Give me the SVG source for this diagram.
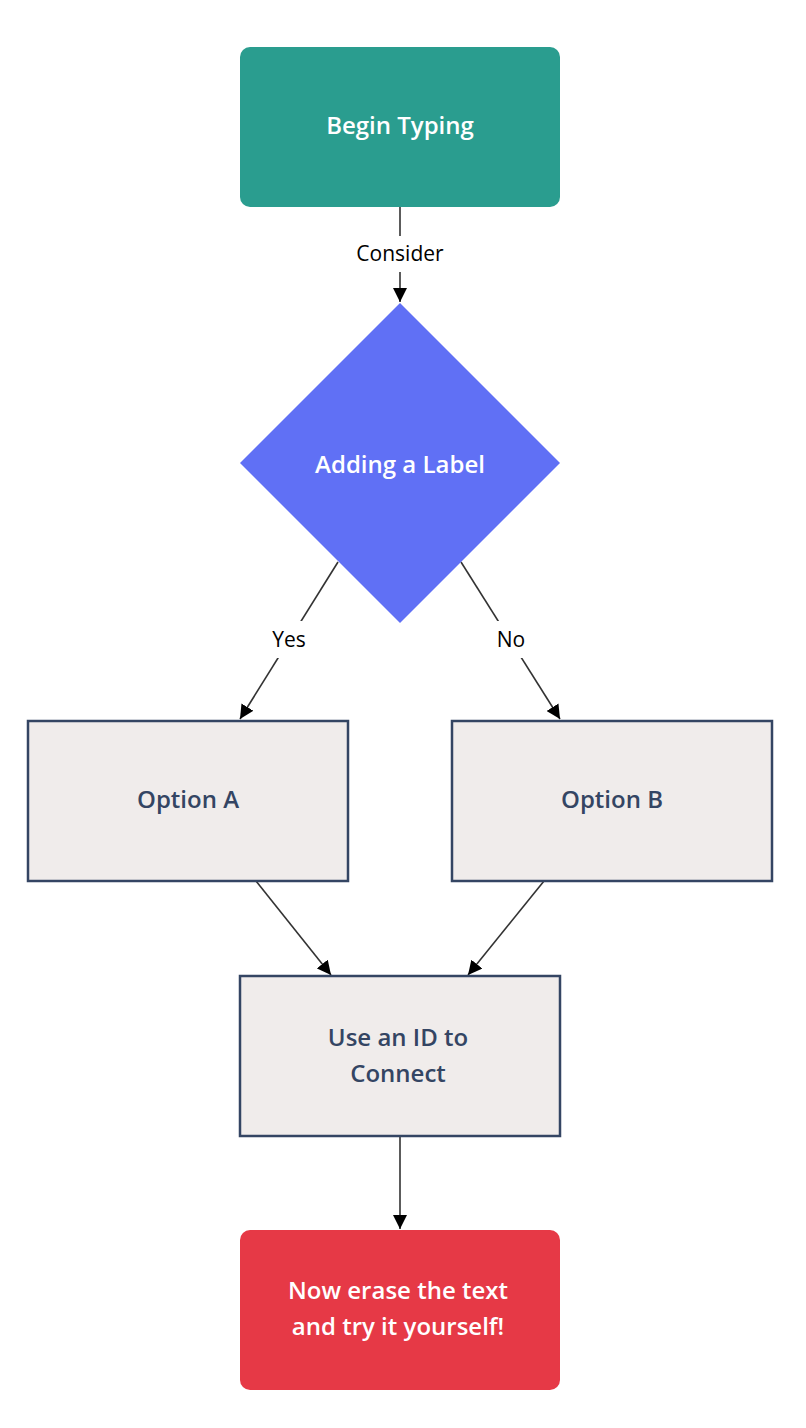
<svg xmlns="http://www.w3.org/2000/svg" width="806" height="1428" viewBox="0 0 806 1428">
<defs>
<style>
.nt{font-family:"Open Sans","Noto Sans","Liberation Sans",sans-serif;font-weight:600;font-size:24px;text-anchor:middle}
.w{fill:#ffffff}
.d{fill:#344563}
.box{fill:#F0ECEB;stroke:#344563;stroke-width:2.5}
.lbl{font-family:"Open Sans","Noto Sans","Liberation Sans",sans-serif;font-size:21px;fill:#000;text-anchor:middle}
.edge{stroke:#333333;stroke-width:1.6;fill:none;marker-end:url(#arr)}
</style>
<marker id="arr" markerUnits="userSpaceOnUse" markerWidth="14" markerHeight="14" viewBox="0 0 12 12" refX="12" refY="6" orient="auto">
<path d="M0,0 L12,6 L0,12 z" fill="#000"/>
</marker>
</defs>
<rect width="806" height="1428" fill="#ffffff"/>
<g id="connectors">
<line class="edge" x1="400" y1="207" x2="400" y2="302"/>
<rect x="352" y="236" width="96" height="36" fill="#fff"/>
<text class="lbl" x="400" y="261">Consider</text>
<line class="edge" x1="338" y1="562" x2="240" y2="719"/>
<rect x="266" y="621" width="46" height="37" fill="#fff"/>
<text class="lbl" x="289" y="647">Yes</text>
<line class="edge" x1="461" y1="562" x2="560" y2="719"/>
<rect x="493" y="621" width="36" height="37" fill="#fff"/>
<text class="lbl" x="511" y="647">No</text>
<line class="edge" x1="256" y1="881" x2="331" y2="975"/>
<line class="edge" x1="544" y1="881" x2="468" y2="975"/>
<line class="edge" x1="400" y1="1137" x2="400" y2="1229"/>
</g>
<g id="begin">
<rect x="240" y="47" width="320" height="160" rx="10" fill="#2A9D8F"/>
<text class="nt w" x="400" y="134">Begin Typing</text>
</g>
<g id="decision">
<polygon points="400,303 560,463 400,623 240,463" fill="#6070F5"/>
<text class="nt w" x="400" y="473">Adding a Label</text>
</g>
<g id="optionA">
<rect class="box" x="28" y="721" width="320" height="160"/>
<text class="nt d" x="188" y="808">Option A</text>
</g>
<g id="optionB">
<rect class="box" x="452" y="721" width="320" height="160"/>
<text class="nt d" x="612" y="808">Option B</text>
</g>
<g id="connect">
<rect class="box" x="240" y="976" width="320" height="160"/>
<text class="nt d" x="398" y="1046">Use an ID to</text>
<text class="nt d" x="398" y="1082">Connect</text>
</g>
<g id="finish">
<rect x="240" y="1230" width="320" height="160" rx="10" fill="#E63946"/>
<text class="nt w" x="398" y="1299">Now erase the text</text>
<text class="nt w" x="398" y="1335">and try it yourself!</text>
</g>
</svg>
